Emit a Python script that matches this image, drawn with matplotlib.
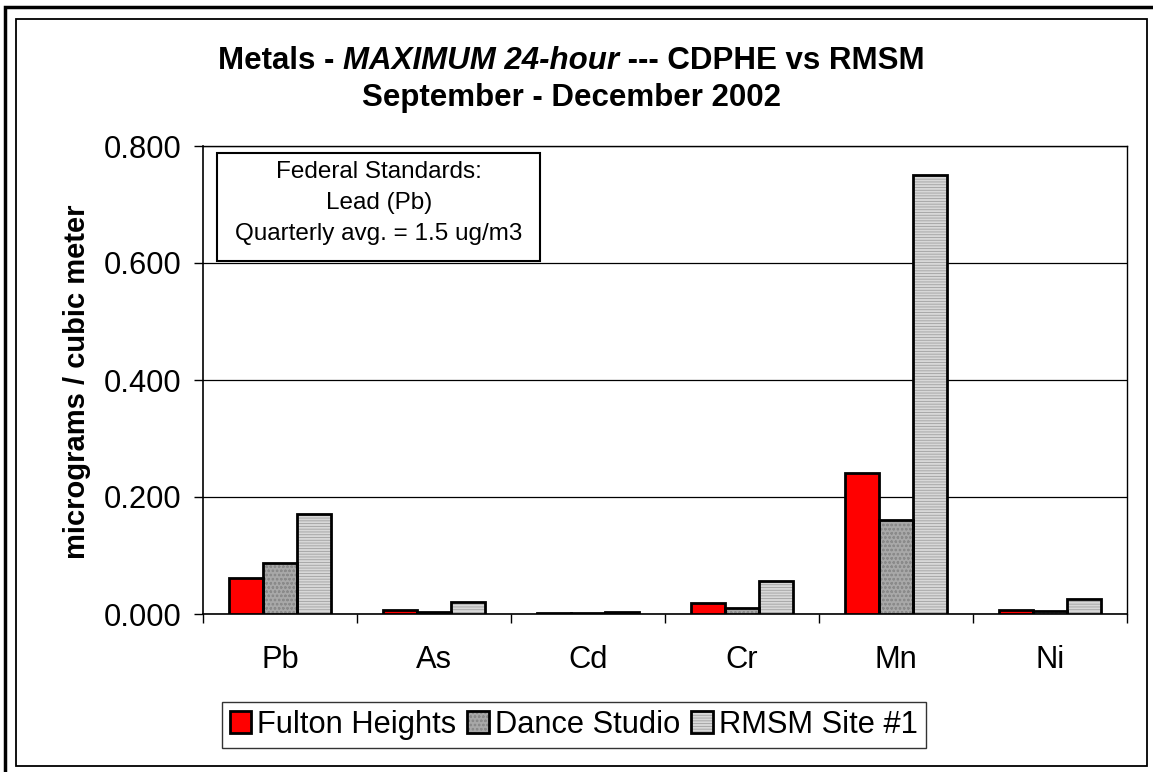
import numpy as np
import matplotlib
matplotlib.use("Agg")
import matplotlib.pyplot as plt
from matplotlib.patches import Rectangle, Patch
from matplotlib.legend_handler import HandlerTuple

plt.rcParams['font.family'] = ['Liberation Sans', 'DejaVu Sans']
plt.rcParams['hatch.linewidth'] = 0.6

metals = ['Pb', 'As', 'Cd', 'Cr', 'Mn', 'Ni']
fulton = [0.061, 0.006, 0.001, 0.018, 0.241, 0.006]
dance = [0.088, 0.003, 0.001, 0.010, 0.160, 0.005]
rmsm = [0.171, 0.020, 0.003, 0.057, 0.750, 0.026]
series_names = ['Fulton Heights', 'Dance Studio', 'RMSM Site #1']
yticks = [0.0, 0.2, 0.4, 0.6, 0.8]
note = ['Federal Standards:', 'Lead (Pb)', 'Quarterly avg. = 1.5 ug/m3']

W, H = 1153, 772
fig = plt.figure(figsize=(W / 100, H / 100), dpi=100)
ax = fig.add_axes([203 / W, 1 - 614 / H, (1127 - 203) / W, (614 - 146) / H])

x = np.arange(len(metals))
bw = 0.219
styles = [
    dict(face='#ff0000', hatch=None, hcol='#ff0000'),
    dict(face='#a8a8a8', hatch='oooo', hcol='#8a8a8a'),
    dict(face='#d8d8d8', hatch='------', hcol='#a0a0a0'),
]
handles = []
for i, (vals, st) in enumerate(zip([fulton, dance, rmsm], styles)):
    pos = x + (i - 1) * bw
    ax.bar(pos, vals, bw, color=st['face'], hatch=st['hatch'],
           edgecolor=st['hcol'], linewidth=0, zorder=3)
    ax.bar(pos, vals, bw, fill=False, edgecolor='black', linewidth=2, zorder=4)
    h1 = Patch(facecolor=st['face'], hatch=st['hatch'], edgecolor=st['hcol'], linewidth=0)
    h2 = Patch(fill=False, edgecolor='black', linewidth=2)
    handles.append((h1, h2))

ax.set_xlim(-0.5, len(metals) - 0.5)
ax.set_ylim(0, 0.8)
ax.set_yticks(yticks)
ax.set_yticklabels(['%.3f' % v for v in yticks], fontsize=22.2)
ax.tick_params(axis='y', direction='out', length=6.5, width=1, pad=9)
ax.yaxis.grid(True, color='black', linewidth=0.9, zorder=0)

ax.set_xticks(np.arange(-0.5, len(metals), 1.0))
ax.set_xticklabels([])
ax.tick_params(axis='x', which='major', direction='out', length=6.5, width=1)
ax.set_xticks(x, minor=True)
ax.set_xticklabels(metals, minor=True, fontsize=22.2)
ax.tick_params(axis='x', which='minor', length=0, pad=22)

for s in ax.spines.values():
    s.set_linewidth(1)
    s.set_color('black')
ax.spines['left'].set_linewidth(1.2)
ax.spines['bottom'].set_linewidth(1.2)

# standards note box
fig.patches.append(Rectangle((217 / W, 1 - 261 / H), (540 - 217) / W, (261 - 153) / H,
                             transform=fig.transFigure, facecolor='white',
                             edgecolor='black', linewidth=1.5, zorder=5))
for k, line in enumerate(note):
    fig.text(379 / W, 1 - (172 + 31 * k) / H, line, fontsize=17.5,
             ha='center', va='center', zorder=6)

# y label
fig.text(77 / W, 1 - 382 / H, 'micrograms / cubic meter', rotation=90,
         fontsize=21, fontweight='bold', ha='center', va='center')

# title (mixed styles on line 1)
renderer = fig.canvas.get_renderer()
parts = [('Metals - ', 'normal'), ('MAXIMUM 24-hour', 'italic'), (' --- CDPHE vs RMSM', 'normal')]
texts = []
for txt, sty in parts:
    t = fig.text(0, 1 - 61 / H, txt, fontsize=22.5, fontweight='bold', fontstyle=sty,
                 ha='left', va='center')
    texts.append(t)
widths = [t.get_window_extent(renderer).width for t in texts]
start = 218
for t, w in zip(texts, widths):
    t.set_x(start / W)
    start += w
fig.text((218 + sum(widths) / 2) / W, 1 - 98 / H, 'September - December 2002',
         fontsize=22.5, fontweight='bold', ha='center', va='center')

leg = fig.legend(handles, series_names, handler_map={tuple: HandlerTuple(ndivide=1)},
                 loc='center left', bbox_to_anchor=(222 / W, 1 - 725 / H), ncol=3,
                 fontsize=22.2, frameon=True, fancybox=False, shadow=False,
                 handlelength=0.7, handleheight=0.7, handletextpad=0.2,
                 columnspacing=0.35, borderpad=0.25, borderaxespad=0)
leg.get_frame().set_edgecolor('black')
leg.get_frame().set_linewidth(1)

# chart borders
fig.patches.append(Rectangle((16 / W, 1 - 766 / H), (1147 - 16) / W, (766 - 19) / H,
                             transform=fig.transFigure, fill=False,
                             edgecolor='black', linewidth=1.3))
fig.patches.append(Rectangle((5 / W, -0.05), 1.1, 1 - 7 / H + 0.05,
                             transform=fig.transFigure, fill=False,
                             edgecolor='black', linewidth=2.5))

fig.savefig('out.png', dpi=100)
